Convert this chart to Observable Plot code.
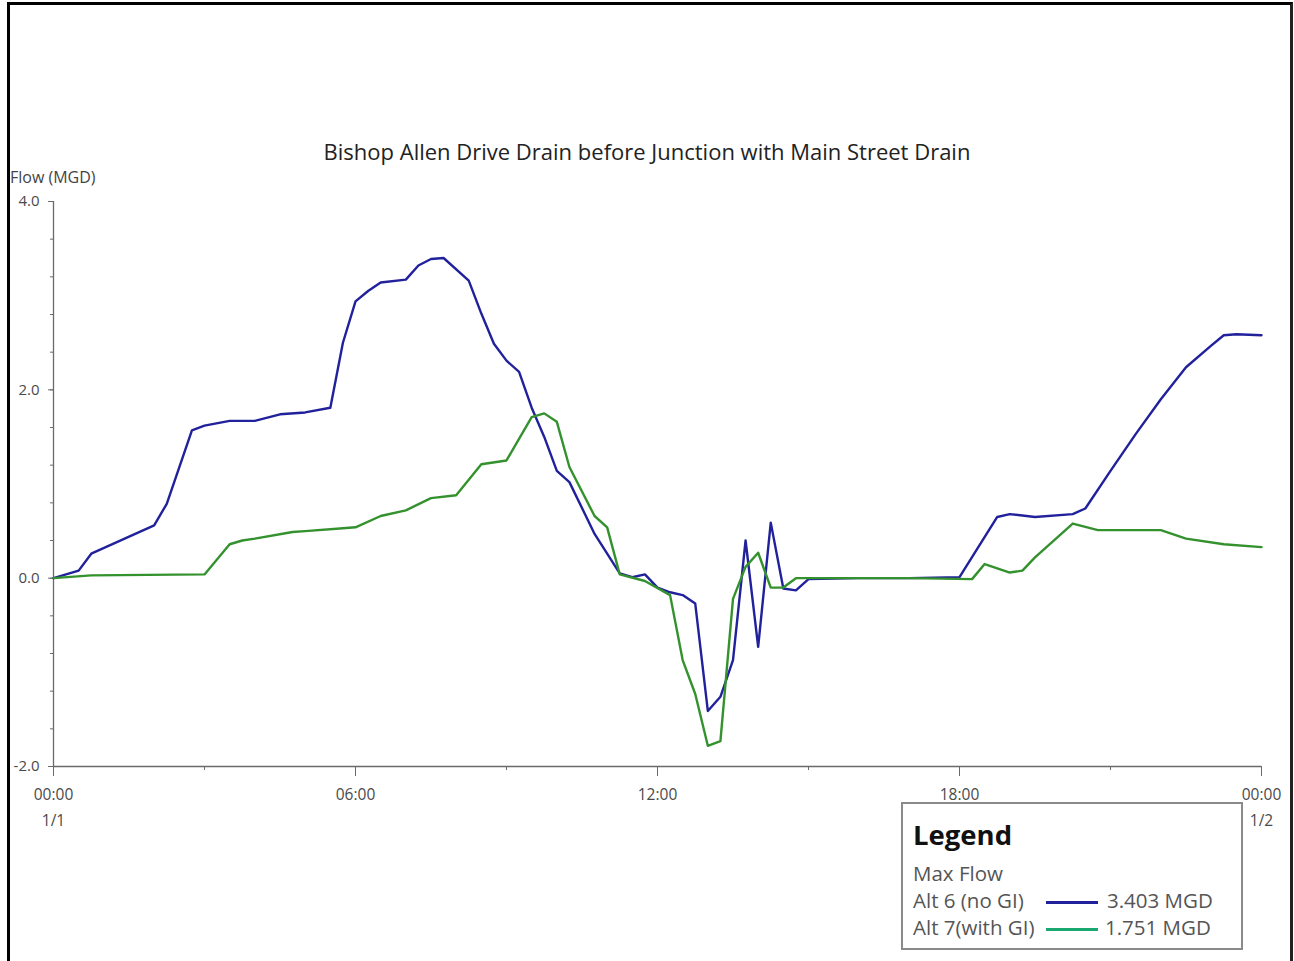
<!DOCTYPE html>
<html>
<head>
<meta charset="utf-8">
<script src="https://cdn.jsdelivr.net/npm/d3@7"></script>
<script src="https://cdn.jsdelivr.net/npm/@observablehq/plot@0.6"></script>
<style>
  html, body { margin: 0; padding: 0; background: #fff; }
  #wrap { position: relative; width: 1294px; height: 961px; overflow: hidden; font-family: "Open Sans", "Noto Sans", sans-serif; }
  #wrap svg { position: absolute; left: 0; top: 0; }
  .abs { position: absolute; white-space: nowrap; }
  #frame { position: absolute; left: 7px; top: 2px; width: 1280px; height: 990px; border-left: 3px solid #000; border-top: 3px solid #000; border-right: 3px solid #222; }
  #title { left: 0; width: 1294px; text-align: center; top: 136px; font-size: 22px; color: #222; }
  #ylab { left: 10px; top: 166px; font-size: 16px; color: #444; }
  #legend { position: absolute; left: 901px; top: 802px; width: 338px; height: 144px; border: 2px solid #8a8a8a; background: #fff; }
  #legend .abs { color: #555; font-size: 20.5px; }
  #legend .sw { position: absolute; height: 3px; width: 52px; }
</style>
</head>
<body>
<div id="wrap"></div>
<script>
// ---- data (hours from 00:00 on 1/1, flow in MGD) ----
const alt6Hours = [0, 0.5, 0.75, 2, 2.25, 2.75, 3, 3.5, 4, 4.5, 5, 5.5, 5.75, 6, 6.25, 6.5, 7, 7.25, 7.5, 7.75, 8.25, 8.5, 8.75, 9, 9.25, 9.5, 9.75, 10, 10.25, 10.75, 11.25, 11.5, 11.75, 12, 12.25, 12.5, 12.75, 13, 13.25, 13.5, 13.75, 14, 14.25, 14.5, 14.75, 15, 16, 17, 18, 18.75, 19, 19.5, 20.25, 20.5, 21, 21.5, 22, 22.5, 23, 23.25, 23.5, 24];
const alt6Flow  = [0, 0.08, 0.26, 0.56, 0.79, 1.57, 1.62, 1.67, 1.67, 1.74, 1.76, 1.81, 2.5, 2.94, 3.05, 3.14, 3.17, 3.32, 3.39, 3.40, 3.16, 2.81, 2.49, 2.31, 2.19, 1.81, 1.50, 1.14, 1.02, 0.47, 0.05, 0.01, 0.04, -0.10, -0.15, -0.18, -0.27, -1.41, -1.26, -0.87, 0.40, -0.73, 0.59, -0.11, -0.13, -0.01, 0.0, 0.0, 0.01, 0.65, 0.68, 0.65, 0.68, 0.74, 1.14, 1.53, 1.90, 2.24, 2.47, 2.58, 2.59, 2.58];

const alt7Hours = [0, 0.75, 3, 3.5, 3.75, 4, 4.75, 5, 5.75, 6, 6.5, 7, 7.5, 8, 8.5, 9, 9.5, 9.75, 10, 10.25, 10.75, 11, 11.25, 11.75, 12.25, 12.5, 12.75, 13, 13.25, 13.5, 13.75, 14, 14.25, 14.5, 14.75, 16, 17, 18.25, 18.5, 19, 19.25, 19.5, 20.25, 20.75, 22, 22.5, 23.25, 24];
const alt7Flow  = [0, 0.03, 0.04, 0.36, 0.40, 0.42, 0.49, 0.50, 0.53, 0.54, 0.66, 0.72, 0.85, 0.88, 1.21, 1.25, 1.71, 1.75, 1.66, 1.18, 0.66, 0.54, 0.04, -0.03, -0.18, -0.87, -1.23, -1.78, -1.73, -0.22, 0.12, 0.27, -0.10, -0.10, 0.0, 0.0, 0.0, -0.01, 0.15, 0.06, 0.08, 0.22, 0.58, 0.51, 0.51, 0.42, 0.36, 0.33];

const seriesNames = ["Alt 6 (no GI)", "Alt 7(with GI)"];
const maxFlowLabels = ["3.403 MGD", "1.751 MGD"];
const xMajorTicks = [0, 6, 12, 18, 24];
const xMajorLabels = ["00:00", "06:00", "12:00", "18:00", "00:00"];
const xMinorTicks = [3, 9, 15, 21];
const dateTicks = [0, 24];
const dateLabels = ["1/1", "1/2"];
const yMajorTicks = [-2, 0, 2, 4];
const yMinorTicks = [-2, -1.6, -1.2, -0.8, -0.4, 0, 0.4, 0.8, 1.2, 1.6, 2, 2.4, 2.8, 3.2, 3.6, 4];
const titleText = "Bishop Allen Drive Drain before Junction with Main Street Drain";
const yLabelText = "Flow (MGD)";

const blue = "#21219c";
const green = "#34922e";
const legendGreen = "#19a870";

const alt6 = alt6Hours.map((h, i) => ({h, v: alt6Flow[i]}));
const alt7 = alt7Hours.map((h, i) => ({h, v: alt7Flow[i]}));

const axisColor = "#6a6a6a";
const labelColor = "#4a4a4a";

const chart = Plot.plot({
  width: 1294,
  height: 961,
  marginLeft: 53,
  marginRight: 33,
  marginTop: 201,
  marginBottom: 195,
  style: {fontFamily: "'Open Sans', 'Noto Sans', sans-serif", fontSize: "14px", background: "transparent"},
  x: {domain: [0, 24], axis: null},
  y: {domain: [-2, 4], axis: null},
  marks: [
    Plot.ruleX([0], {y1: -2, y2: 4, stroke: axisColor, strokeWidth: 1.3}),
    Plot.ruleY([-2], {x1: 0, x2: 24, stroke: axisColor, strokeWidth: 1.3}),
    Plot.axisY(yMinorTicks, {tickSize: 3, stroke: axisColor, tickFormat: null, label: null, text: null}),
    Plot.axisY(yMajorTicks, {tickSize: 5, tickPadding: 9, stroke: axisColor, fill: labelColor, tickFormat: d => d.toFixed(1), label: null, fontSize: 15}),
    Plot.axisX(xMinorTicks, {tickSize: 4, stroke: axisColor, text: null, label: null}),
    Plot.axisX(xMajorTicks, {tickSize: 10, tickPadding: 12, stroke: axisColor, fill: labelColor, tickFormat: (d, i) => xMajorLabels[i], label: null, fontSize: 15.5}),
    Plot.text(dateTicks, {x: d => d, y: () => -2, text: (d, i) => dateLabels[i], dy: 48, lineAnchor: "top", fill: labelColor, fontSize: 15.5}),
    Plot.line(alt6, {x: "h", y: "v", stroke: blue, strokeWidth: 2.4}),
    Plot.line(alt7, {x: "h", y: "v", stroke: green, strokeWidth: 2.4})
  ]
});

const wrap = document.getElementById("wrap");
wrap.appendChild(chart);

function addDiv(parent, cls, id, text, css) {
  const d = document.createElement("div");
  if (cls) d.className = cls;
  if (id) d.id = id;
  if (text != null) d.textContent = text;
  if (css) Object.assign(d.style, css);
  parent.appendChild(d);
  return d;
}

addDiv(wrap, null, "frame");
addDiv(wrap, "abs", "title", titleText);
addDiv(wrap, "abs", "ylab", yLabelText);

const legend = addDiv(wrap, null, "legend");
addDiv(legend, "abs", null, "Legend", {left: "10px", top: "12px", fontSize: "27.5px", fontWeight: "bold", color: "#111"});
addDiv(legend, "abs", null, "Max Flow", {left: "10px", top: "55px"});
const swColors = [blue, legendGreen];
seriesNames.forEach((name, i) => {
  const top = 82 + i * 27;
  addDiv(legend, "abs", null, name, {left: "10px", top: top + "px"});
  addDiv(legend, "sw", null, null, {left: "143px", top: (top + 15) + "px", background: swColors[i]});
  addDiv(legend, "abs", null, maxFlowLabels[i], {left: (i === 0 ? 204 : 202) + "px", top: top + "px"});
});
</script>
</body>
</html>
